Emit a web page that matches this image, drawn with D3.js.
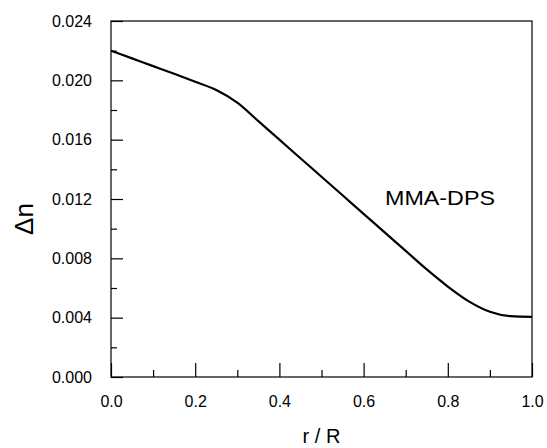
<!DOCTYPE html>
<html>
<head>
<meta charset="utf-8">
<script src="https://cdn.jsdelivr.net/npm/d3@7"></script>
<style>
body { margin: 0; background: #fff; }
text { font-family: "Liberation Sans", Arial, sans-serif; fill: #000; }
</style>
</head>
<body>
<svg id="svg"></svg>
<script>
var width = 547, height = 448;
var margin = {top: 21, bottom: 71, right: 15, left: 111};

// curve
var rR = [0, 0.05, 0.1, 0.15, 0.2, 0.25, 0.3, 0.35, 0.4, 0.45, 0.5, 0.55, 0.6, 0.65, 0.7, 0.75, 0.8, 0.85, 0.9, 0.95, 1.0];
var dn = [0.0220, 0.02148, 0.02096, 0.02044, 0.0199, 0.01935, 0.0185, 0.01725, 0.0160, 0.01475, 0.0135, 0.01225, 0.0110, 0.00975, 0.0085, 0.00725, 0.0061, 0.0051, 0.0044, 0.0041, 0.00405];
var xTicks = [0, 0.2, 0.4, 0.6, 0.8, 1.0];
var yTicks = [0, 0.004, 0.008, 0.012, 0.016, 0.020, 0.024];
var seriesLabel = "MMA-DPS";

var svg = d3.select("#svg")
	.attr("width", width)
	.attr("height", height);

var x = d3.scaleLinear()
	.domain([0, 1])
	.range([margin.left, width - margin.right]);

var y = d3.scaleLinear()
	.domain([0, 0.024])
	.range([height - margin.bottom, margin.top]);

// frame
svg.append("rect")
	.attr("x", x(0))
	.attr("y", y(0.024))
	.attr("width", x(1) - x(0))
	.attr("height", y(0) - y(0.024))
	.attr("fill", "none")
	.attr("stroke", "#000")
	.attr("stroke-width", 1.2);

var xAxis = d3.axisBottom(x)
	.tickValues(xTicks)
	.tickFormat(d3.format(".1f"))
	.tickSizeInner(-14)
	.tickSizeOuter(0)
	.tickPadding(19);

svg.append("g")
	.attr("transform", "translate(0," + y(0) + ")")
	.call(xAxis);

var xMinor = d3.axisBottom(x)
	.tickValues(d3.range(0.1, 1, 0.2))
	.tickFormat("")
	.tickSizeInner(-7)
	.tickSizeOuter(0);

svg.append("g")
	.attr("transform", "translate(0," + y(0) + ")")
	.call(xMinor);

var yAxis = d3.axisLeft(y)
	.tickValues(yTicks)
	.tickFormat(d3.format(".3f"))
	.tickSizeInner(-12)
	.tickSizeOuter(0)
	.tickPadding(19);

svg.append("g")
	.attr("transform", "translate(" + x(0) + ",0)")
	.call(yAxis);

var yMinor = d3.axisLeft(y)
	.tickValues(d3.range(0.002, 0.024, 0.004))
	.tickFormat("")
	.tickSizeInner(-6)
	.tickSizeOuter(0);

svg.append("g")
	.attr("transform", "translate(" + x(0) + ",0)")
	.call(yMinor);

svg.selectAll(".domain").remove();
svg.selectAll(".tick line").attr("stroke", "#000").attr("stroke-width", 1.2);
svg.selectAll(".tick text").attr("font-size", 16).attr("font-family", "Liberation Sans, Arial, sans-serif");

var line = d3.line()
	.x(function(d, i) { return x(rR[i]); })
	.y(function(d) { return y(d); })
	.curve(d3.curveMonotoneX);

svg.append("path")
	.datum(dn)
	.attr("d", line)
	.attr("fill", "none")
	.attr("stroke", "#000")
	.attr("stroke-width", 2.2);

svg.append("text")
	.attr("x", 385)
	.attr("y", 205)
	.attr("font-size", 21)
	.attr("textLength", 110)
	.attr("lengthAdjust", "spacingAndGlyphs")
	.text(seriesLabel);

svg.append("text")
	.attr("x", (x(0) + x(1)) / 2)
	.attr("y", 443)
	.attr("text-anchor", "middle")
	.attr("font-size", 20)
	.text("r / R");

svg.append("text")
	.attr("transform", "translate(33,219) rotate(-90)")
	.attr("text-anchor", "middle")
	.attr("font-size", 26)
	.text("Δn");
</script>
</body>
</html>
